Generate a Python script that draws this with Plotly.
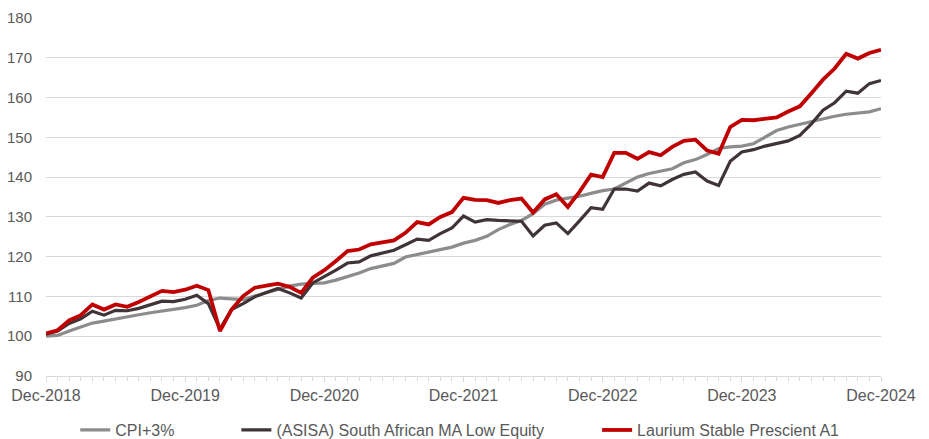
import plotly.graph_objects as go
import pandas as pd

months = pd.date_range("2018-12-01", periods=73, freq="MS").strftime("%b-%Y").tolist()
tick_labels = ["Dec-2018", "Dec-2019", "Dec-2020", "Dec-2021", "Dec-2022", "Dec-2023", "Dec-2024"]

cpi = [100.0, 100.2, 101.3, 102.3, 103.3, 103.8, 104.4, 104.8, 105.4, 105.9, 106.3, 106.7,
       107.2, 107.8, 109.0, 109.6, 109.4, 109.2, 110.1, 111.0, 111.9, 112.6, 113.1,
       113.2, 113.4, 114.1, 114.9, 115.9, 117.0, 117.6, 118.3, 119.9, 120.5, 121.0, 121.6,
       122.4, 123.4, 124.1, 125.1, 126.8, 128.1, 129.1, 130.8, 133.2, 134.2, 134.6, 135.2,
       135.9, 136.6, 137.0, 138.4, 140.0, 140.9, 141.4, 142.1, 143.6, 144.4, 145.7, 147.2,
       147.6, 147.8, 148.4, 150.1, 151.7, 152.6, 153.3, 153.8, 154.7, 155.3, 155.8, 156.0,
       156.4, 157.2]

asisa = [100.5, 101.3, 103.2, 104.4, 106.3, 105.3, 106.5, 106.4, 107.0, 107.8, 108.8, 108.7,
         109.3, 110.3, 108.2, 101.8, 106.7, 108.2, 109.9, 111.0, 112.0, 110.9, 109.6,
         113.4, 114.9, 116.6, 118.4, 118.7, 120.2, 120.8, 121.6, 123.0, 124.4, 124.1, 125.8,
         127.2, 130.2, 128.7, 129.3, 129.1, 128.9, 128.9, 125.2, 127.9, 128.5, 125.8, 129.0,
         132.3, 131.9, 137.0, 137.0, 136.5, 138.5, 137.8, 139.4, 140.7, 141.3, 139.0, 137.9,
         144.0, 146.3, 146.9, 147.8, 148.4, 149.1, 150.5, 153.4, 156.8, 158.7, 161.6, 161.1,
         163.5, 164.3]

laurium = [100.7, 101.5, 104.0, 105.3, 108.0, 106.7, 108.0, 107.4, 108.6, 110.1, 111.4, 111.1,
           111.7, 112.7, 111.6, 101.3, 106.7, 110.1, 112.2, 112.7, 113.2, 112.4, 110.9,
           114.7, 116.6, 118.9, 121.4, 121.8, 123.1, 123.6, 124.1, 126.0, 128.7, 128.1, 130.0,
           131.2, 134.8, 134.3, 134.2, 133.5, 134.2, 134.6, 131.1, 134.4, 135.7, 132.5, 136.3,
           140.6, 140.0, 146.1, 146.1, 144.6, 146.3, 145.5, 147.6, 149.1, 149.4, 146.7, 145.9,
           152.6, 154.4, 154.3, 154.7, 155.0, 156.5, 157.8, 161.1, 164.5, 167.3, 171.0, 169.8,
           171.2, 172.0]

x = list(range(len(months)))
tick_vals = [months.index(t) for t in tick_labels]

font_family = "Liberation Sans, Arial, sans-serif"
text_color = "#595959"

fig = go.Figure()
series = [
    ("CPI+3%", cpi, "#8c8c8c", 3.2, "legend", 0.035),
    ("(ASISA) South African MA Low Equity", asisa, "#403436", 3.2, "legend2", 0.228),
    ("Laurium Stable Prescient A1", laurium, "#c00000", 3.8, "legend3", 0.660),
]
legends = {}
for name, vals, color, w, lg, lx in series:
    fig.add_trace(go.Scatter(x=x, y=vals, mode="lines", name=name, text=months,
                             line=dict(color=color, width=w), legend=lg))
    legends[lg] = dict(orientation="h", x=lx, xanchor="left", y=-0.151, yanchor="middle",
                       bgcolor="rgba(0,0,0,0)",
                       font=dict(size=16, color=text_color, family=font_family))

# the page body adds an 8px offset, so margins compensate for it
fig.update_layout(
    width=929, height=439,
    margin=dict(l=38, r=56, t=10, b=71, autoexpand=False),
    plot_bgcolor="white", paper_bgcolor="white",
    font=dict(family=font_family, size=15, color=text_color),
    showlegend=True,
    **legends,
)
fig.update_xaxes(
    range=[0, 72], tickvals=tick_vals, ticktext=tick_labels,
    showgrid=False, zeroline=False,
    showline=True, linecolor="#d9d9d9", linewidth=1,
    ticks="outside", ticklen=5, tickcolor="#d9d9d9",
    minor=dict(dtick=1, tick0=0, ticks="outside", ticklen=4, tickcolor="#d9d9d9"),
    tickfont=dict(size=16, color=text_color),
)
fig.update_yaxes(
    range=[90, 180], dtick=10, tick0=90,
    showgrid=True, gridcolor="#d9d9d9", gridwidth=1,
    zeroline=False, showline=False, ticks="",
    ticklabelstandoff=13,
    tickfont=dict(size=15, color=text_color),
)

fig.write_html("out.html")
